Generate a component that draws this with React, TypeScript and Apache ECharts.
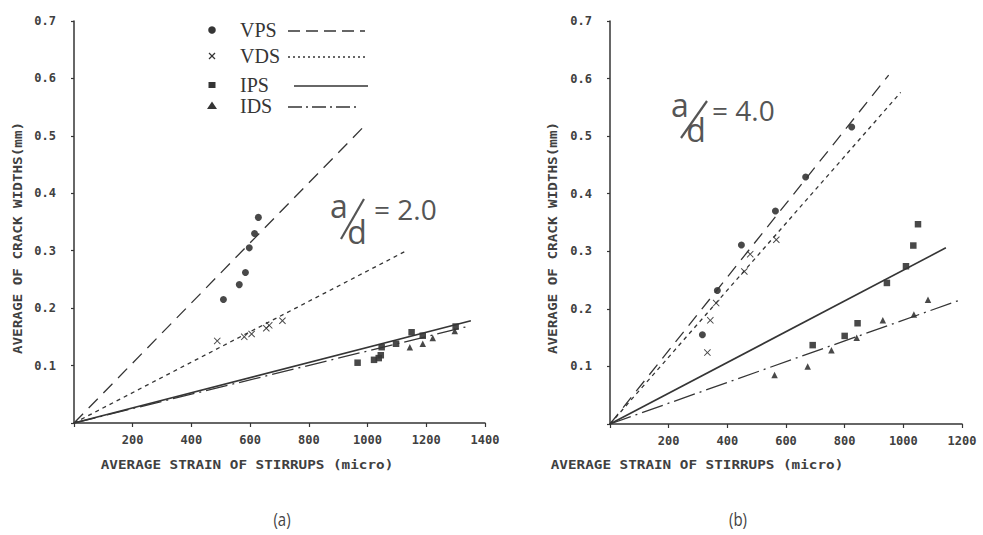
import React, { useEffect, useRef } from "react";
import * as echarts from "echarts";

// ---- data ----
// (a) a/d = 2.0
const vpsA = [[509, 0.215], [563, 0.241], [584, 0.262], [597, 0.305], [615, 0.33], [628, 0.358]];
const vdsA = [[488, 0.143], [580, 0.15], [605, 0.155], [655, 0.165], [665, 0.17], [710, 0.178]];
const ipsA = [[966, 0.105], [1022, 0.11], [1038, 0.113], [1045, 0.118], [1048, 0.132], [1097, 0.138], [1150, 0.158], [1188, 0.152], [1300, 0.168]];
const idsA = [[1144, 0.132], [1188, 0.138], [1222, 0.148], [1297, 0.16]];
const vpsLineA = [[0, 0], [985, 0.515]];
const vdsLineA = [[0, 0], [1125, 0.298]];
const ipsLineA = [[0, 0], [1352, 0.178]];
const idsLineA = [[0, 0], [1340, 0.168]];

// (b) a/d = 4.0
const vpsB = [[315, 0.155], [366, 0.232], [448, 0.311], [564, 0.37], [667, 0.429], [824, 0.516]];
const vdsB = [[332, 0.124], [342, 0.18], [362, 0.21], [458, 0.265], [478, 0.295], [567, 0.32]];
const ipsB = [[691, 0.137], [800, 0.153], [844, 0.175], [944, 0.245], [1009, 0.274], [1034, 0.31], [1050, 0.347]];
const idsB = [[561, 0.085], [674, 0.1], [755, 0.128], [841, 0.15], [930, 0.18], [1036, 0.19], [1084, 0.216]];
const vpsLineB = [[0, 0], [950, 0.606]];
const vdsLineB = [[0, 0], [991, 0.576]];
const ipsLineB = [[0, 0], [1145, 0.306]];
const idsLineB = [[0, 0], [1186, 0.214]];

const xMaxA = 1400;
const xMaxB = 1200;
const xStep = 200;
const yMax = 0.7;
const yStep = 0.1;

const legendNames = ["VPS", "VDS", "IPS", "IDS"];
const xTitle = "AVERAGE STRAIN OF STIRRUPS (micro)";
const yTitle = "AVERAGE OF CRACK WIDTHS(mm)";
const panelLabels = ["(a)", "(b)"];
const ratioLabels = ["= 2.0", "= 4.0"];

// ---- styles ----
const INK = "#353535";
const MONO = "'DejaVu Sans Mono', 'Liberation Mono', monospace";
const CROSS = "path://M0,1L1,0L5,4L9,0L10,1L6,5L10,9L9,10L5,6L1,10L0,9L4,5Z";
const dashes: Record<string, any> = {
  VPS: [13, 8],
  VDS: [4, 4],
  IPS: "solid",
  IDS: [22, 5, 2, 5],
};
const symbols: Record<string, any> = { VPS: "circle", VDS: CROSS, IPS: "rect", IDS: "triangle" };
const symbolSizes: Record<string, number> = { VPS: 7, VDS: 7, IPS: 6.5, IDS: 6.5 };

function makeAxes(idx: number, max: number) {
  const x = {
    type: "value",
    gridIndex: idx,
    min: 0,
    max,
    interval: xStep,
    axisLine: { show: true, onZero: false, lineStyle: { color: INK, width: 1.5 } },
    axisTick: { show: true, length: 4, lineStyle: { color: INK, width: 1.2 } },
    splitLine: { show: false },
    axisLabel: {
      color: "#404040",
      fontFamily: MONO,
      fontSize: 12,
      fontWeight: "bold",
      margin: 11,
      formatter: (v: number) => (v === 0 ? "" : String(v)),
    },
  };
  const y = {
    type: "value",
    gridIndex: idx,
    min: 0,
    max: yMax,
    interval: yStep,
    axisLine: { show: true, onZero: false, lineStyle: { color: INK, width: 1.5 } },
    axisTick: { show: true, length: 3, lineStyle: { color: INK, width: 1.2 } },
    splitLine: { show: false },
    axisLabel: {
      color: "#404040",
      fontFamily: MONO,
      fontSize: 12,
      fontWeight: "bold",
      margin: 18,
      formatter: (v: number) => (v === 0 ? "" : v.toFixed(1)),
    },
  };
  return { x, y };
}

function makeSeries(idx: number, pts: number[][][], lines: number[][][]) {
  const out: any[] = [];
  legendNames.forEach((name, i) => {
    out.push({
      type: "line",
      name: name + " fit",
      xAxisIndex: idx,
      yAxisIndex: idx,
      data: lines[i],
      showSymbol: false,
      symbol: "none",
      silent: true,
      lineStyle: { color: INK, width: name === "IPS" ? 1.6 : 1.3, type: dashes[name] },
      z: 2,
    });
    out.push({
      type: "scatter",
      name,
      xAxisIndex: idx,
      yAxisIndex: idx,
      data: pts[i],
      symbol: symbols[name],
      symbolSize: symbolSizes[name],
      itemStyle: { color: INK, opacity: 0.9 },
      z: 3,
    });
  });
  return out;
}

function ratioGraphic(ax: number, ay: number, dx: number, dy: number, s: number[], eqx: number, eqy: number, label: string) {
  const big = "32px 'Open Sans', 'DejaVu Sans', sans-serif";
  const font = "28px 'Open Sans', 'DejaVu Sans', sans-serif";
  return [
    { type: "text", x: ax, y: ay, style: { text: "a", fill: "#555", font: big, textAlign: "center", textVerticalAlign: "middle", verticalAlign: "middle" } },
    { type: "text", x: dx, y: dy, style: { text: "d", fill: "#555", font: big, textAlign: "center", textVerticalAlign: "middle", verticalAlign: "middle" } },
    { type: "line", shape: { x1: s[0], y1: s[1], x2: s[2], y2: s[3] }, style: { stroke: "#555", lineWidth: 2.2 } },
    { type: "text", x: eqx, y: eqy, style: { text: label, fill: "#555", font, textAlign: "left", textVerticalAlign: "middle", verticalAlign: "middle" } },
  ];
}

function legendGraphic() {
  const rows = [30, 56, 85, 106];
  const lineSpans = [[288, 365], [288, 365], [294, 368], [288, 357]];
  const els: any[] = [];
  legendNames.forEach((name, i) => {
    const y = rows[i];
    if (name === "VPS") els.push({ type: "circle", shape: { cx: 212, cy: y, r: 3.8 }, style: { fill: INK } });
    if (name === "VDS")
      els.push(
        { type: "line", shape: { x1: 209, y1: y - 3, x2: 215, y2: y + 3 }, style: { stroke: INK, lineWidth: 1.3 } },
        { type: "line", shape: { x1: 215, y1: y - 3, x2: 209, y2: y + 3 }, style: { stroke: INK, lineWidth: 1.3 } }
      );
    if (name === "IPS") els.push({ type: "rect", shape: { x: 208.5, y: y - 3, width: 7, height: 6 }, style: { fill: INK } });
    if (name === "IDS") els.push({ type: "polygon", shape: { points: [[212, y - 4.5], [217, y + 3], [207, y + 3]] }, style: { fill: INK } });
    els.push({
      type: "text",
      x: 240,
      y,
      style: { text: name, fill: INK, font: "20px 'Liberation Serif', 'DejaVu Serif', serif", textAlign: "left", textVerticalAlign: "middle", verticalAlign: "middle" },
    });
    const d = dashes[name];
    els.push({
      type: "line",
      shape: { x1: lineSpans[i][0], y1: y + 1, x2: lineSpans[i][1], y2: y + 1 },
      style: { stroke: INK, lineWidth: name === "IPS" ? 1.6 : 1.3, lineDash: d === "solid" ? null : name === "VDS" ? [2, 3] : name === "VPS" ? [12, 6] : [14, 4, 2, 4] },
    });
  });
  return els;
}

export default function App() {
  const ref = useRef<HTMLDivElement>(null);
  useEffect(() => {
    if (!ref.current) return;
    const chart = echarts.init(ref.current, undefined, { renderer: "svg" });
    const a = makeAxes(0, xMaxA);
    const b = makeAxes(1, xMaxB);
    const titleStyle = { fill: "#404040", font: `bold 11px ${MONO}`, textAlign: "center", textVerticalAlign: "middle", verticalAlign: "middle" };
    const capStyle = { fill: "#444", font: "15px 'Open Sans', 'DejaVu Sans', sans-serif", textAlign: "center", textVerticalAlign: "middle", verticalAlign: "middle" };
    chart.setOption({
      animation: false,
      backgroundColor: "#ffffff",
      grid: [
        { left: 74, top: 21, width: 411, height: 402 },
        { left: 610, top: 21, width: 352, height: 403 },
      ],
      xAxis: [a.x, b.x],
      yAxis: [a.y, b.y],
      series: [
        ...makeSeries(0, [vpsA, vdsA, ipsA, idsA], [vpsLineA, vdsLineA, ipsLineA, idsLineA]),
        ...makeSeries(1, [vpsB, vdsB, ipsB, idsB], [vpsLineB, vdsLineB, ipsLineB, idsLineB]),
      ],
      graphic: [
        { type: "text", x: 18, y: 238, rotation: Math.PI / 2, scaleX: 1.3, scaleY: 1.1, style: { text: yTitle, ...titleStyle } },
        { type: "text", x: 553, y: 238, rotation: Math.PI / 2, scaleX: 1.3, scaleY: 1.1, style: { text: yTitle, ...titleStyle } },
        { type: "text", x: 247, y: 465, scaleX: 1.3, scaleY: 1.1, style: { text: xTitle, ...titleStyle } },
        { type: "text", x: 697, y: 465, scaleX: 1.3, scaleY: 1.1, style: { text: xTitle, ...titleStyle } },
        { type: "text", x: 282, y: 520, scaleY: 1.15, style: { text: panelLabels[0], ...capStyle } },
        { type: "text", x: 738, y: 520, scaleY: 1.15, style: { text: panelLabels[1], ...capStyle } },
        ...ratioGraphic(339, 205, 357, 231, [341, 239, 364, 199], 374, 209, ratioLabels[0]),
        ...ratioGraphic(680, 104, 696, 129, [681, 138, 707, 101], 712, 110, ratioLabels[1]),
        ...legendGraphic(),
      ],
    });
    return () => chart.dispose();
  }, []);
  return <div ref={ref} style={{ position: "fixed", left: 0, top: 0, width: 983, height: 535 }} />;
}
